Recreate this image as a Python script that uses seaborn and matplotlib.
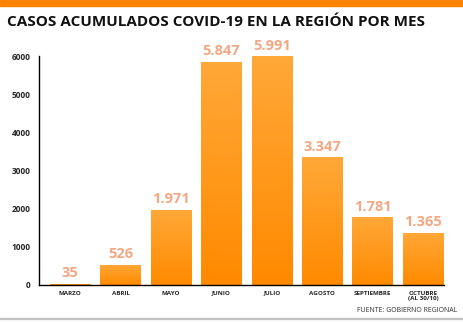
import numpy as np
import pandas as pd
import matplotlib
matplotlib.use("Agg")
import matplotlib.pyplot as plt
import seaborn as sns
from matplotlib.colors import LinearSegmentedColormap

months = ["MARZO", "ABRIL", "MAYO", "JUNIO", "JULIO", "AGOSTO", "SEPTIEMBRE", "OCTUBRE\n(AL 30/10)"]
cases = [35, 526, 1971, 5847, 5991, 3347, 1781, 1365]
value_labels = ["35", "526", "1.971", "5.847", "5.991", "3.347", "1.781", "1.365"]
yticks = [0, 1000, 2000, 3000, 4000, 5000, 6000]

sns.set_style("white")
plt.rcParams['font.family'] = ['Open Sans', 'DejaVu Sans']

fig = plt.figure(figsize=(4.64, 3.23), dpi=100)
W, H = 464, 323
ax = fig.add_axes([39 / W, 1 - 285 / H, (444 - 39) / W, (285 - 56) / H])

df = pd.DataFrame({"mes": months, "casos": cases})
sns.barplot(data=df, x="mes", y="casos", color="#FF9520", width=0.8, ax=ax,
            saturation=1, edgecolor="none")

cmap = LinearSegmentedColormap.from_list("g", ["#FF8A00", "#FFA838"])
grad = np.linspace(0, 1, 256).reshape(-1, 1)
for patch in ax.patches:
    x0, y0 = patch.get_x(), patch.get_y()
    w, h = patch.get_width(), patch.get_height()
    im = ax.imshow(grad, extent=[x0, x0 + w, y0, y0 + h], origin="lower",
                   aspect="auto", cmap=cmap, zorder=patch.get_zorder() + 0.1)
    im.set_clip_path(patch)

for i, (v, lab) in enumerate(zip(cases, value_labels)):
    ax.text(i, v + 90, lab, ha="center", va="bottom", color="#F4A783",
            fontsize=10.5, fontweight="bold")

ax.set_xlim(-0.62, 7.42)
ax.set_ylim(0, 6000)
ax.set_yticks(yticks)
ax.set_yticklabels([str(t) for t in yticks], fontsize=6, fontweight="bold")
ax.tick_params(axis="x", labelsize=4.5, length=0, pad=4)
ax.tick_params(axis="y", length=0, pad=6)
for lbl in ax.get_xticklabels():
    lbl.set_fontweight("bold")
ax.set_xlabel("")
ax.set_ylabel("")
sns.despine(ax=ax)
ax.spines["left"].set_color("black")
ax.spines["bottom"].set_color("black")
ax.spines["left"].set_linewidth(1.0)
ax.spines["bottom"].set_linewidth(1.0)

# Top orange band
fig.patches.append(plt.Rectangle((0, 1 - 6 / H), 1, 6 / H, transform=fig.transFigure,
                                 color="#FF8200", zorder=0))
# Bottom gray line
fig.patches.append(plt.Rectangle((0, 1 - 319 / H), 1, 1.5 / H, transform=fig.transFigure,
                                 color="#C4C4C4", zorder=0))

fig.text(7 / W, 1 - 22 / H, "CASOS ACUMULADOS COVID-19 EN LA REGIÓN POR MES",
         ha="left", va="center", fontsize=11, fontweight="bold", color="#111111")
fig.text(457 / W, 1 - 311 / H, "FUENTE: GOBIERNO REGIONAL", ha="right", va="center",
         fontsize=5, color="#333333")

fig.savefig("out.png", dpi=100)
